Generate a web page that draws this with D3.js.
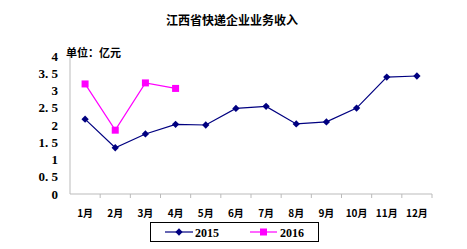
<!DOCTYPE html>
<html>
<head>
<meta charset="utf-8">
<script src="https://cdn.jsdelivr.net/npm/d3@7"></script>
<style>
  body { margin: 0; background: #fff; }
  text { font-family: "Liberation Serif", "Noto Sans CJK SC", serif; font-weight: bold; fill: #000; }
</style>
</head>
<body>
<svg width="467" height="249"></svg>
<script>
var months = ["1月", "2月", "3月", "4月", "5月", "6月", "7月", "8月", "9月", "10月", "11月", "12月"];
var values2015 = [2.17, 1.34, 1.74, 2.02, 2.0, 2.48, 2.54, 2.03, 2.09, 2.49, 3.39, 3.42];
var values2016 = [3.19, 1.85, 3.22, 3.06];
var yTicks = [0, 0.5, 1, 1.5, 2, 2.5, 3, 3.5, 4];

var svg = d3.select("svg"),
  margin = { top: 56, right: 35, bottom: 55, left: 70 },
  width = 467 - margin.left - margin.right,
  height = 249 - margin.top - margin.bottom;

var x = d3.scaleBand().domain(months).range([0, width]),
  y = d3.scaleLinear().domain([0, 4]).range([height, 0]);

var g = svg.append("g")
  .attr("transform", "translate(" + margin.left + "," + margin.top + ")");

// title
svg.append("text")
  .attr("x", 232).attr("y", 25)
  .attr("text-anchor", "middle")
  .style("font-family", "'Noto Sans CJK SC'")
  .style("font-size", "12px")
  .text("江西省快递企业业务收入");

svg.append("text")
  .attr("x", 66).attr("y", 57)
  .style("font-family", "'Noto Sans CJK SC'")
  .style("font-size", "11px")
  .text("单位：亿元");

// y axis
g.append("line").attr("x1", 0).attr("x2", 0).attr("y1", 0).attr("y2", height)
  .attr("stroke", "#bbb");
g.selectAll(".ylab").data(yTicks).enter().append("text")
  .attr("x", -12).attr("y", function(d) { return y(d); })
  .attr("dy", "0.35em")
  .attr("text-anchor", "end")
  .style("font-size", "13px")
  .text(function(d) { return d % 1 ? d.toFixed(1).replace(".", ". ") : d; });

// x axis
var xg = g.append("g")
  .attr("transform", "translate(0," + height + ")");
xg.append("line").attr("x1", 0).attr("x2", width).attr("stroke", "#bbb");
xg.selectAll(".tk").data(months).enter().append("line")
  .attr("x1", function(d) { return x(d) + x.bandwidth(); })
  .attr("x2", function(d) { return x(d) + x.bandwidth(); })
  .attr("y1", 0).attr("y2", 4)
  .attr("stroke", "#bbb");
xg.selectAll(".xlab").data(months).enter().append("text")
  .attr("x", function(d) { return x(d) + x.bandwidth() / 2; })
  .attr("y", 23)
  .attr("text-anchor", "middle")
  .style("font-family", "'Noto Sans CJK SC'")
  .style("font-size", "10px")
  .text(function(d) { return d; });

var line = d3.line()
  .x(function(d, i) { return x(months[i]) + x.bandwidth() / 2; })
  .y(function(d) { return y(d); });

var diamond = d3.symbol().type(d3.symbolDiamond2).size(34);

g.append("path").datum(values2015)
  .attr("d", line).attr("fill", "none")
  .attr("stroke", "#000080").attr("stroke-width", 1.2);
g.selectAll(".p15").data(values2015).enter().append("path")
  .attr("d", diamond)
  .attr("transform", function(d, i) {
    return "translate(" + (x(months[i]) + x.bandwidth() / 2) + "," + y(d) + ")";
  })
  .attr("fill", "#000080");

g.append("path").datum(values2016)
  .attr("d", line).attr("fill", "none")
  .attr("stroke", "#ff00ff").attr("stroke-width", 1.2);
g.selectAll(".p16").data(values2016).enter().append("rect")
  .attr("x", function(d, i) { return x(months[i]) + x.bandwidth() / 2 - 3.5; })
  .attr("y", function(d) { return y(d) - 3.5; })
  .attr("width", 7).attr("height", 7)
  .attr("fill", "#ff00ff");

// legend
var lg = svg.append("g");
lg.append("rect").attr("x", 150.5).attr("y", 222.5).attr("width", 168).attr("height", 19)
  .attr("fill", "#fff").attr("stroke", "#000");
lg.append("line").attr("x1", 165).attr("x2", 193).attr("y1", 232).attr("y2", 232)
  .attr("stroke", "#000080").attr("stroke-width", 1.2);
lg.append("path").attr("d", diamond)
  .attr("transform", "translate(179,232)").attr("fill", "#000080");
lg.append("text").attr("x", 195).attr("y", 236.5).style("font-size", "12px").text("2015");
lg.append("line").attr("x1", 250).attr("x2", 277).attr("y1", 232).attr("y2", 232)
  .attr("stroke", "#ff00ff").attr("stroke-width", 1.2);
lg.append("rect").attr("x", 260).attr("y", 228.5).attr("width", 7).attr("height", 7).attr("fill", "#ff00ff");
lg.append("text").attr("x", 280).attr("y", 236.5).style("font-size", "12px").text("2016");
</script>
</body>
</html>
